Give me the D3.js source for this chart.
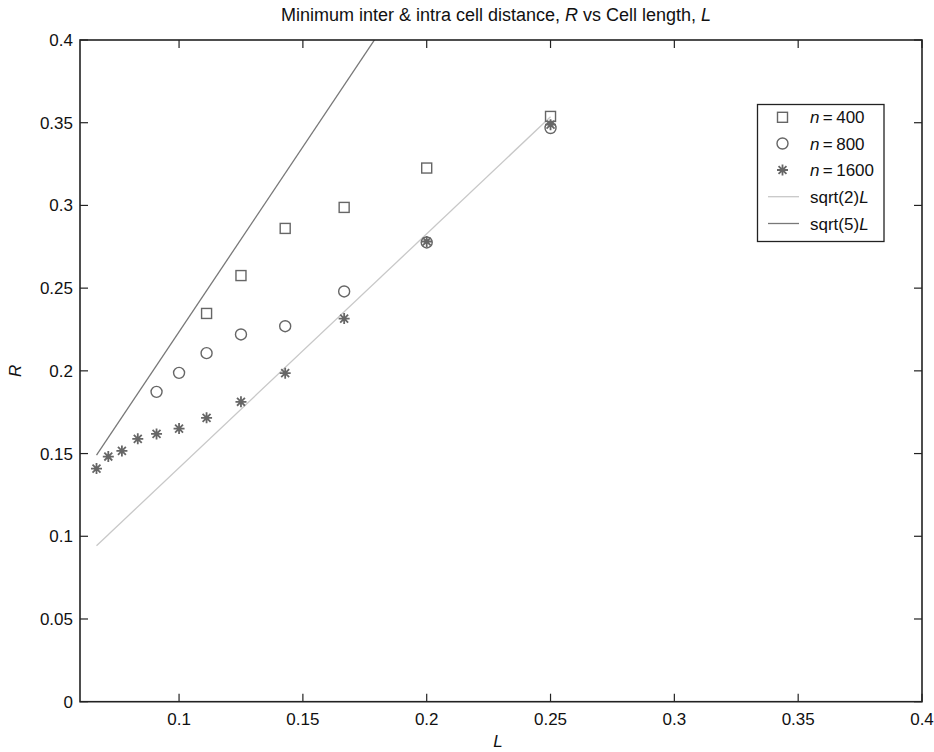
<!DOCTYPE html>
<html><head><meta charset="utf-8">
<script src="https://cdn.jsdelivr.net/npm/d3@7"></script>
<style>body{margin:0;background:#fff;} text{font-family:"Liberation Sans",Arial,Helvetica,sans-serif;}</style>
</head><body>
<svg id="chart" width="934" height="752"></svg>
<script>
const cellK = [15,14,13,12,11,10,9,8,7,6,5,4];
const L1600 = cellK.map(k => 1/k);
const R1600 = [0.1409,0.1482,0.1516,0.1589,0.1619,0.1651,0.1716,0.1813,0.1986,0.2316,0.2782,0.3488];
const L800 = [1/11,1/10,1/9,1/8,1/7,1/6,1/5,1/4];
const R800 = [0.1873,0.1988,0.2107,0.2220,0.2270,0.2480,0.2776,0.3468];
const L400 = [1/9,1/8,1/7,1/6,1/5,1/4];
const R400 = [0.2347,0.2576,0.2861,0.2988,0.3226,0.3538];
const lineL = [1/15, 1/4];
const xTicks = [0.1,0.15,0.2,0.25,0.3,0.35,0.4];
const yTicks = [0,0.05,0.1,0.15,0.2,0.25,0.3,0.35,0.4];
const legendLabels = ["n=400","n=800","n=1600","sqrt(2)L","sqrt(5)L"];

const svg = d3.select("#chart");
const m = {l:80, r:922, t:40, b:701.7};
const x = d3.scaleLinear().domain([0.06,0.4]).range([m.l,m.r]);
const y = d3.scaleLinear().domain([0,0.4]).range([m.b,m.t]);

const defs = svg.append("defs");
defs.append("clipPath").attr("id","clip").append("rect")
  .attr("x",m.l).attr("y",m.t).attr("width",m.r-m.l).attr("height",m.b-m.t);

const axisCol = "#222";
const mkCol = "#666";
const light = "#c8c8c8", dark = "#787878";
const fs = 17;

// lines
const lineGen = d3.line().x(d=>x(d[0])).y(d=>y(d[1]));
const g = svg.append("g").attr("clip-path","url(#clip)");
g.append("path").datum(lineL.map(l=>[l, Math.SQRT2*l])).attr("d",lineGen)
  .attr("stroke",light).attr("stroke-width",1.3).attr("fill","none");
g.append("path").datum(lineL.map(l=>[l, Math.sqrt(5)*l])).attr("d",lineGen)
  .attr("stroke",dark).attr("stroke-width",1.3).attr("fill","none");

// markers
function square(sel, cx, cy){
  sel.append("rect").attr("x",cx-5).attr("y",cy-5).attr("width",10).attr("height",10)
    .attr("fill","none").attr("stroke",mkCol).attr("stroke-width",1.4);
}
function circle(sel, cx, cy){
  sel.append("circle").attr("cx",cx).attr("cy",cy).attr("r",5.5)
    .attr("fill","none").attr("stroke",mkCol).attr("stroke-width",1.4);
}
function star(sel, cx, cy){
  const r = 5.5, d = r*0.72;
  const p = `M${cx-r},${cy}L${cx+r},${cy}M${cx},${cy-r}L${cx},${cy+r}M${cx-d},${cy-d}L${cx+d},${cy+d}M${cx-d},${cy+d}L${cx+d},${cy-d}`;
  sel.append("path").attr("d",p).attr("stroke",mkCol).attr("stroke-width",1.8).attr("fill","none");
}
L400.forEach((l,i)=>square(g, x(l), y(R400[i])));
L800.forEach((l,i)=>circle(g, x(l), y(R800[i])));
L1600.forEach((l,i)=>star(g, x(l), y(R1600[i])));

// axes box
const tl = 8;
const axG = svg.append("g");
axG.append("rect").attr("x",m.l).attr("y",m.t).attr("width",m.r-m.l).attr("height",m.b-m.t)
  .attr("fill","none").attr("stroke",axisCol).attr("stroke-width",1.6);
xTicks.forEach(t=>{
  axG.append("line").attr("x1",x(t)).attr("x2",x(t)).attr("y1",m.b).attr("y2",m.b-tl).attr("stroke",axisCol).attr("stroke-width",1.2);
  axG.append("line").attr("x1",x(t)).attr("x2",x(t)).attr("y1",m.t).attr("y2",m.t+tl).attr("stroke",axisCol).attr("stroke-width",1.2);
  axG.append("text").attr("x",x(t)).attr("y",m.b+23).attr("text-anchor","middle")
    .attr("font-size",fs).attr("fill","#111").text(String(t));
});
yTicks.forEach(t=>{
  axG.append("line").attr("x1",m.l).attr("x2",m.l+tl).attr("y1",y(t)).attr("y2",y(t)).attr("stroke",axisCol).attr("stroke-width",1.2);
  axG.append("line").attr("x1",m.r).attr("x2",m.r-tl).attr("y1",y(t)).attr("y2",y(t)).attr("stroke",axisCol).attr("stroke-width",1.2);
  axG.append("text").attr("x",m.l-7).attr("y",y(t)).attr("dy","0.35em").attr("text-anchor","end")
    .attr("font-size",fs).attr("fill","#111").text(String(t));
});

// labels
const title = svg.append("text").attr("x",496).attr("y",21).attr("text-anchor","middle")
  .attr("font-size",18).attr("fill","#111");
title.append("tspan").text("Minimum inter & intra cell distance, ");
title.append("tspan").attr("font-style","italic").text("R");
title.append("tspan").text(" vs Cell length, ");
title.append("tspan").attr("font-style","italic").text("L");

svg.append("text").attr("x",(m.l+m.r)/2 - 3).attr("y",747).attr("text-anchor","middle")
  .attr("font-size",fs).attr("font-style","italic").attr("fill","#111").text("L");
svg.append("text").attr("transform",`translate(21,${(m.t+m.b)/2}) rotate(-90)`).attr("text-anchor","middle")
  .attr("font-size",fs).attr("font-style","italic").attr("fill","#111").text("R");

// legend
const lg = svg.append("g");
lg.append("rect").attr("x",757.5).attr("y",104.5).attr("width",126.5).attr("height",137)
  .attr("fill","#fff").attr("stroke",axisCol).attr("stroke-width",1.3);
const rowY = [117.3,143.5,170,196.7,223.5];
const mx = 782.5;
square(lg, mx, rowY[0]);
circle(lg, mx, rowY[1]);
star(lg, mx, rowY[2]);
lg.append("line").attr("x1",768).attr("x2",799).attr("y1",rowY[3]).attr("y2",rowY[3]).attr("stroke",light).attr("stroke-width",1.3);
lg.append("line").attr("x1",768).attr("x2",799).attr("y1",rowY[4]).attr("y2",rowY[4]).attr("stroke",dark).attr("stroke-width",1.3);
legendLabels.forEach((lab,i)=>{
  const t = lg.append("text").attr("x",810).attr("y",rowY[i]).attr("dy","0.36em")
    .attr("font-size",fs).attr("fill","#111");
  if (lab.startsWith("n=")) {
    t.append("tspan").attr("font-style","italic").text("n");
    t.append("tspan").text("\u2009=\u2009" + lab.slice(2));
  } else {
    t.append("tspan").text(lab.slice(0,-1));
    t.append("tspan").attr("font-style","italic").text("L");
  }
});
</script>
</body></html>
